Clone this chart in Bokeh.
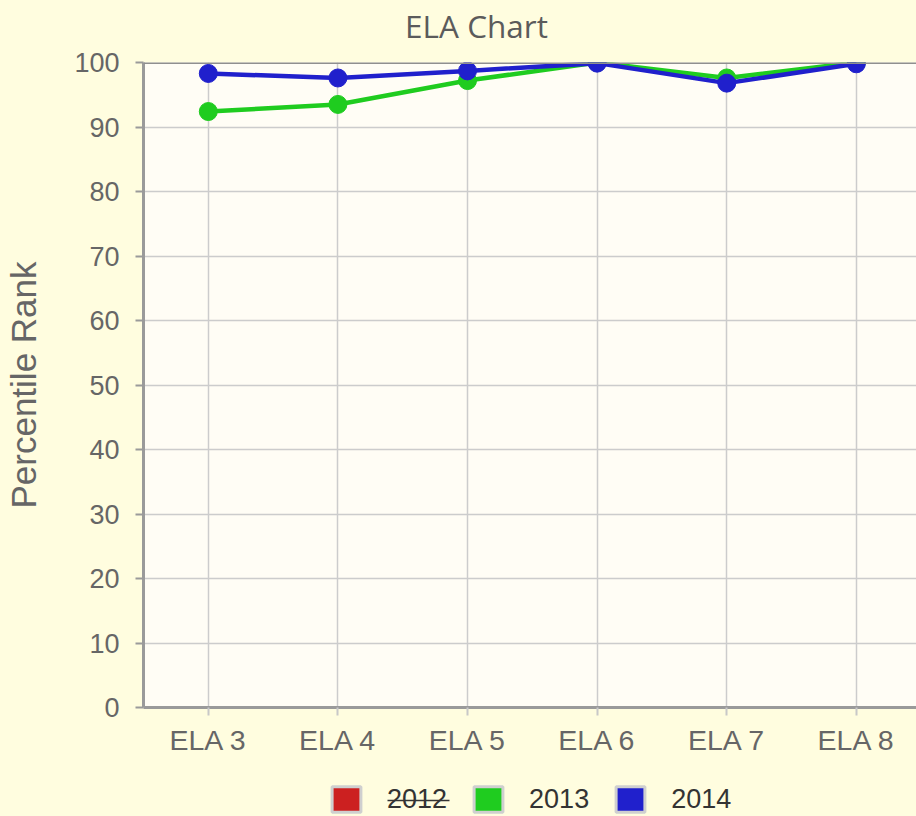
from bokeh.plotting import figure
from bokeh.models import (Range1d, FixedTicker, Legend, LegendItem, Span, BoxAnnotation, Label)
from bokeh.layouts import column
from bokeh.embed import file_html
from bokeh.resources import INLINE

categories = ["ELA 3", "ELA 4", "ELA 5", "ELA 6", "ELA 7", "ELA 8"]
series_names = ["2012", "2013", "2014"]
values_2013 = [92.4, 93.5, 97.2, 100.0, 97.6, 100.0]
values_2014 = [98.3, 97.6, 98.7, 99.9, 96.8, 99.8]
y_ticks = [0, 10, 20, 30, 40, 50, 60, 70, 80, 90, 100]
hidden_series = ["2012"]
chart_title = "ELA Chart"

colors = {"2012": "#CC2020", "2013": "#1FCC1F", "2014": "#2020CC"}
page_bg = "#FFFDDF"
xs = list(range(len(categories)))
NAN = float("nan")

W = 916
LEFT = 143          # width of the left border (y axis area)
H_TITLE = 46
H_MAIN = 723
H_LEG = 47


def strip(height):
    f = figure(width=W, height=height, output_backend="svg", toolbar_location=None,
               x_range=Range1d(LEFT, W), y_range=Range1d(0, height),
               x_axis_type=None, y_axis_type=None,
               min_border_left=LEFT, min_border_right=0,
               min_border_top=0, min_border_bottom=0)
    f.grid.visible = False
    f.outline_line_color = None
    f.background_fill_color = page_bg
    f.border_fill_color = page_bg
    return f


# ---- title strip ----
t = strip(H_TITLE)
t.add_layout(Label(x=476, y=H_TITLE - 24.5, text=chart_title, text_align="center",
                   text_baseline="middle", text_font="Open Sans", text_font_size="31.5px",
                   text_color="#5b5b5b"))

# ---- main chart ----
p = figure(width=W, height=H_MAIN, output_backend="svg", toolbar_location=None,
           x_range=Range1d(-0.5, 5.464), y_range=Range1d(0, 100),
           min_border_left=LEFT, min_border_right=0,
           min_border_top=16, min_border_bottom=62)

p.background_fill_color = "#FFFDF5"
p.border_fill_color = page_bg
p.outline_line_color = None

xa = p.xaxis[0]
xa.ticker = FixedTicker(ticks=xs)
xa.major_label_overrides = {i: c for i, c in enumerate(categories)}
xa.axis_line_color = "#9a9a9a"
xa.axis_line_width = 3
xa.major_tick_line_color = "#c8c8c8"
xa.major_tick_line_width = 2
xa.major_tick_out = 8
xa.major_tick_in = 0
xa.minor_tick_line_color = None
xa.major_label_text_font = "Liberation Sans"
xa.major_label_text_font_size = "28.5px"
xa.major_label_text_color = "#666666"
xa.major_label_standoff = 8

ya = p.yaxis[0]
ya.ticker = FixedTicker(ticks=y_ticks)
ya.axis_line_color = "#9a9a9a"
ya.axis_line_width = 3
ya.major_tick_line_color = "#9a9a9a"
ya.major_tick_line_width = 2
ya.major_tick_out = 8
ya.major_tick_in = 0
ya.minor_tick_line_color = None
ya.major_label_text_font = "Liberation Sans"
ya.major_label_text_font_size = "27px"
ya.major_label_text_color = "#666666"
ya.major_label_standoff = 16
ya.axis_label = "Percentile Rank"
ya.axis_label_text_font = "Liberation Sans"
ya.axis_label_text_font_size = "35px"
ya.axis_label_text_font_style = "normal"
ya.axis_label_text_color = "#666666"
ya.axis_label_standoff = 28

p.xgrid.grid_line_color = "#cccccc"
p.xgrid.grid_line_width = 1.5
p.ygrid.grid_line_color = "#cccccc"
p.ygrid.grid_line_width = 1.5

# top border of the plot area
p.add_layout(Span(location=100, dimension="width", line_color="#8f8f8f", line_width=3))

p.line(xs, values_2013, line_color=colors["2013"], line_width=4.5)
p.scatter(xs, values_2013, size=18, fill_color=colors["2013"], line_color=colors["2013"])
p.line(xs, values_2014, line_color=colors["2014"], line_width=4.5)
p.scatter(xs, values_2014, size=18, fill_color=colors["2014"], line_color=colors["2014"])

# ---- legend strip ----
q = strip(H_LEG)
items = []
for name in series_names:
    r = q.rect(x=[NAN], y=[NAN], width=1, height=1, fill_color=colors[name],
               line_color="#cfcfcf", line_width=3)
    items.append(LegendItem(label=name, renderers=[r]))

GLYPH_W, STANDOFF, LABEL_W, SPACING = 36, 23, 60, 23
legend_width = len(series_names) * (GLYPH_W + STANDOFF + LABEL_W) + (len(series_names) - 1) * SPACING
legend_left = LEFT + (W - LEFT - legend_width) / 2
legend = Legend(items=items, orientation="horizontal", location=(legend_left - LEFT, 1),
                glyph_width=GLYPH_W, glyph_height=32, label_standoff=STANDOFF,
                spacing=SPACING, label_width=LABEL_W, label_height=32,
                padding=0, margin=0,
                label_text_font="Liberation Sans", label_text_font_size="27px",
                label_text_color="#333333", border_line_color=None,
                background_fill_alpha=0)
q.add_layout(legend, "center")

for name in hidden_series:
    i = series_names.index(name)
    lx = legend_left + i * (GLYPH_W + STANDOFF + LABEL_W + SPACING) + GLYPH_W + STANDOFF
    q.add_layout(BoxAnnotation(left=lx, right=lx + LABEL_W + 2, bottom=15.2, top=16.8,
                               fill_color="#333333", fill_alpha=1, line_color=None))

layout = column(t, p, q, spacing=0, styles={"background-color": page_bg})
open("out.html", "w").write(file_html(layout, INLINE))
